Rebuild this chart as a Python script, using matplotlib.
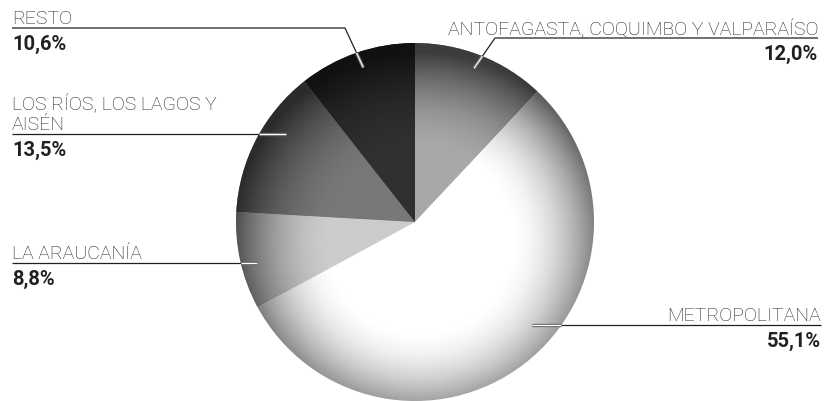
import numpy as np
import matplotlib.pyplot as plt
import matplotlib.patheffects as pe

# data, clockwise from 12 o'clock
regions = ['ANTOFAGASTA, COQUIMBO Y VALPARAÍSO', 'METROPOLITANA', 'LA ARAUCANÍA',
           'LOS RÍOS, LOS LAGOS Y\nAISÉN', 'RESTO']
shares = [12.0, 55.1, 8.8, 13.5, 10.6]
pct_labels = ['12,0%', '55,1%', '8,8%', '13,5%', '10,6%']

# styling / layout
base_grays = [0.66, 1.0, 0.80, 0.47, 0.19]
# label anchor (x of text edge, y of underline from top), alignment, leader angle, leader radius
label_x = [818, 821, 12, 12, 12]
underline_y = [38, 325, 263, 134, 28]
align = ['right', 'right', 'left', 'left', 'left']
leader_ang = [69, -41.4, 194.5, 145.7, 108.5]
leader_r = [0.92, 0.87, 0.91, 0.87, 0.91]
elbow_x = [495, None, None, None, 345]

W, H = 835, 401
cx, cy, R = 415, H - 222, 179
TXT = '#231f20'

plt.rcParams['font.family'] = ['Roboto', 'DejaVu Sans']

fig = plt.figure(figsize=(W / 100, H / 100), dpi=100)
ax = fig.add_axes([0, 0, 1, 1])
wedges, _ = ax.pie(shares, startangle=90, counterclock=False, center=(cx, cy), radius=R,
                   colors=[str(g) for g in base_grays], wedgeprops=dict(linewidth=0))

# spherical shading clipped to each wedge
n = 600
xs = np.linspace(cx - R, cx + R, n)
ys = np.linspace(cy - R, cy + R, n)
X, Y = np.meshgrid(xs, ys)
d = np.hypot(X - (cx + 0.03 * R), Y - (cy - 0.10 * R)) / R
shade = 1 - 0.64 * np.clip((d - 0.5) / 0.55, 0, 1) ** 1.8
for w, g in zip(wedges, base_grays):
    img = np.clip(g * shade, 0, 1)
    im = ax.imshow(img, cmap='gray', vmin=0, vmax=1, extent=(cx - R, cx + R, cy - R, cy + R),
                   origin='lower', interpolation='bilinear', zorder=2)
    im.set_clip_path(w)


def circle_hit(p0, p1):
    # point where segment p0->p1 enters the circle
    p0, p1 = np.array(p0, float), np.array(p1, float)
    dv = p1 - p0
    f = p0 - np.array([cx, cy])
    a, b, c = dv @ dv, 2 * f @ dv, f @ f - R * R
    t = (-b - np.sqrt(max(b * b - 4 * a * c, 0))) / (2 * a)
    return p0 + np.clip(t, 0, 1) * dv


for i in range(len(regions)):
    yl = H - underline_y[i]
    ex = cx + leader_r[i] * R * np.cos(np.radians(leader_ang[i]))
    ey = cy + leader_r[i] * R * np.sin(np.radians(leader_ang[i]))
    if elbow_x[i] is None:
        pts = [(label_x[i], yl), (ex, yl)]
    else:
        pts = [(label_x[i], yl), (elbow_x[i], yl), (ex, ey)]
    px, py = zip(*pts)
    ax.plot(px, py, color=TXT, lw=0.9, zorder=3, solid_capstyle='butt')
    hit = circle_hit(pts[-2], pts[-1])
    seg_end = pts[-1]
    ax.plot([hit[0], seg_end[0]], [hit[1], seg_end[1]], color='white', lw=0.8, zorder=4,
            solid_capstyle='butt',
            path_effects=[pe.Stroke(linewidth=2.4, foreground='#6d6e71'), pe.Normal()])

    ax.text(label_x[i], yl + 4, regions[i], ha=align[i], va='baseline', fontsize=14,
            fontweight='light', color=TXT, linespacing=1.22, zorder=5)
    ax.text(label_x[i], yl - 22, pct_labels[i], ha=align[i], va='baseline', fontsize=14.5,
            fontweight='bold', color=TXT, zorder=5)

ax.set_xlim(0, W)
ax.set_ylim(0, H)
ax.set_aspect('equal')
ax.axis('off')
fig.savefig('out.png', dpi=100)
